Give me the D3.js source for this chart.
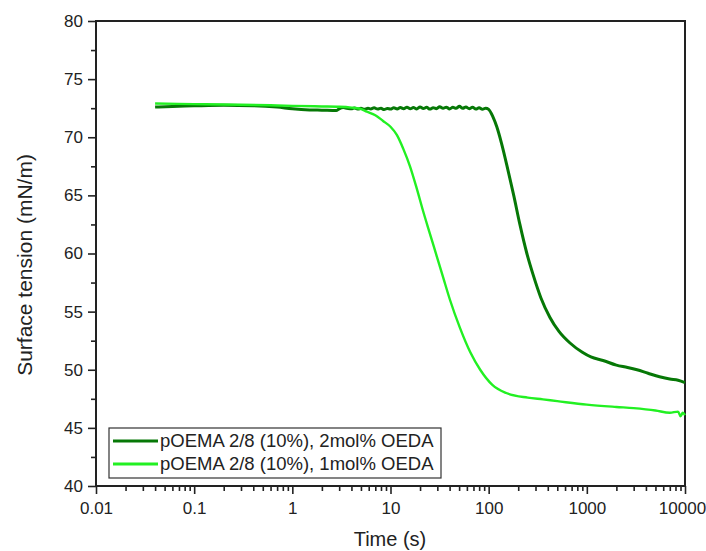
<!DOCTYPE html>
<html>
<head>
<meta charset="utf-8">
<script src="https://cdnjs.cloudflare.com/ajax/libs/d3/7.8.5/d3.min.js"></script>
<style>
  body { margin: 0; background: #fff; }
  svg text { font-family: "Liberation Sans", Arial, sans-serif; fill: #222; }
</style>
</head>
<body>
<div id="chart"></div>
<script>
// Data: [time (s), surface tension (mN/m)]
const series2mol = [
  [0.04, 72.6], [0.06, 72.65], [0.1, 72.7], [0.2, 72.75], [0.4, 72.72], [0.7, 72.6],
  [1.0, 72.45], [1.5, 72.35], [2.0, 72.33], [2.8, 72.3], [3.0, 72.45], [3.3, 72.55],
  [3.6, 72.5], [4.0, 72.45], [4.3, 72.52], [4.7, 72.42], [5.0, 72.5], [5.4, 72.4],
  [5.9, 72.5], [6.3, 72.44], [6.8, 72.53], [7.4, 72.42], [8.0, 72.5], [8.6, 72.38],
  [9.3, 72.48], [10, 72.42], [10.8, 72.54], [11.7, 72.44], [12.6, 72.56], [13.6, 72.46],
  [14.7, 72.58], [15.9, 72.45], [17.1, 72.55], [18.5, 72.44], [20, 72.6], [21.6, 72.47],
  [23.3, 72.57], [25.2, 72.42], [27.2, 72.54], [29.4, 72.46], [31.7, 72.63], [34.3, 72.49],
  [37, 72.59], [40, 72.44], [43.2, 72.57], [46.6, 72.5], [50.4, 72.66], [54.4, 72.49],
  [58.7, 72.6], [63.4, 72.46], [68.5, 72.58], [74, 72.42], [79.9, 72.54], [86.3, 72.4],
  [93.2, 72.5], [100, 72.4], [110, 71.8], [121, 70.9], [135, 69.5], [157, 67.2],
  [180, 65.0], [208, 62.5], [245, 60.0], [283, 58.2], [340, 56.2], [421, 54.5],
  [520, 53.3], [674, 52.3], [900, 51.5], [1100, 51.1], [1462, 50.8], [2000, 50.4],
  [2600, 50.2], [3245, 50.0], [4200, 49.7], [5500, 49.4], [7000, 49.2], [8500, 49.1],
  [10000, 48.9]
];

const series1mol = [
  [0.04, 72.9], [0.1, 72.85], [0.3, 72.8], [0.6, 72.75], [1, 72.7], [2, 72.65], [3, 72.62],
  [4, 72.55], [4.9, 72.45], [5.75, 72.2], [7, 71.9], [8.4, 71.4], [10, 70.9], [11.6, 70.2],
  [13.5, 69.0], [15.8, 67.5], [18.5, 65.6], [21.4, 63.7], [25, 61.8], [29.5, 59.8],
  [34.5, 57.9], [40.4, 56.0], [51, 53.6], [65, 51.5], [82, 50.0], [109, 48.7], [151, 48.0],
  [250, 47.6], [357, 47.45], [500, 47.3], [1000, 47.0], [2000, 46.8], [3000, 46.7],
  [5000, 46.5], [7000, 46.3], [8500, 46.4], [9000, 46.0], [9500, 46.3], [10000, 46.1]
];

const seriesNames = ["pOEMA 2/8 (10%), 2mol% OEDA", "pOEMA 2/8 (10%), 1mol% OEDA"];
const seriesColors = ["#067806", "#22f022"];
const xTickValues = [0.01, 0.1, 1, 10, 100, 1000, 10000];
const yTickValues = [40, 45, 50, 55, 60, 65, 70, 75, 80];

const W = 706, H = 551;
const plot = { left: 96, right: 685, top: 21, bottom: 486 };

const svg = d3.select("#chart")
  .append("svg")
  .attr("width", W)
  .attr("height", H);

const xScale = d3.scaleLog()
  .domain([0.01, 10000])
  .range([plot.left, plot.right]);

const yScale = d3.scaleLinear()
  .domain([40, 80])
  .range([plot.bottom, plot.top]);

// Minor ticks (drawn first, no labels)
svg.append("g")
  .attr("transform", `translate(0,${plot.bottom})`)
  .call(d3.axisBottom(xScale).tickValues(xScale.ticks().filter(t => !xTickValues.includes(t)))
    .tickSize(5).tickFormat(""));

const yMinor = yTickValues.slice(0, -1).map(v => v + 2.5);
svg.append("g")
  .attr("transform", `translate(${plot.left},0)`)
  .call(d3.axisLeft(yScale).tickValues(yMinor).tickSize(5).tickFormat(""));

// Major axes
const xAxis = svg.append("g")
  .attr("transform", `translate(0,${plot.bottom})`)
  .call(d3.axisBottom(xScale).tickValues(xTickValues).tickSize(8).tickPadding(8)
    .tickFormat(d => d3.format("~g")(d)));

const yAxis = svg.append("g")
  .attr("transform", `translate(${plot.left},0)`)
  .call(d3.axisLeft(yScale).tickValues(yTickValues).tickSize(8).tickPadding(5));

svg.selectAll(".domain").remove();
svg.selectAll(".tick line").attr("stroke", "#222").attr("stroke-width", 1.6);
svg.selectAll(".tick text").style("font-size", "17px").attr("fill", "#333");
// keep the last label inside the window
xAxis.selectAll(".tick text").filter(d => d === 10000).attr("dx", -3);

// Frame
svg.append("rect")
  .attr("x", plot.left)
  .attr("y", plot.top)
  .attr("width", plot.right - plot.left)
  .attr("height", plot.bottom - plot.top)
  .attr("fill", "none")
  .attr("stroke", "#222")
  .attr("stroke-width", 2);

// Curves
const line = d3.line()
  .curve(d3.curveMonotoneX)
  .x(d => xScale(d[0]))
  .y(d => yScale(d[1]));

svg.append("path")
  .datum(series2mol)
  .attr("d", line)
  .attr("fill", "none")
  .attr("stroke", seriesColors[0])
  .attr("stroke-width", 3)
  .attr("stroke-linejoin", "round");

svg.append("path")
  .datum(series1mol)
  .attr("d", line)
  .attr("fill", "none")
  .attr("stroke", seriesColors[1])
  .attr("stroke-width", 2.4)
  .attr("stroke-linejoin", "round");

// Axis titles
svg.append("text")
  .attr("x", 390)
  .attr("y", 546)
  .attr("text-anchor", "middle")
  .style("font-size", "20px")
  .text("Time (s)");

svg.append("text")
  .attr("transform", "rotate(-90)")
  .attr("x", -265)
  .attr("y", 32)
  .attr("text-anchor", "middle")
  .style("font-size", "21px")
  .text("Surface tension (mN/m)");

// Legend
const legend = svg.append("g").attr("transform", "translate(109,428)");
legend.append("rect")
  .attr("width", 332)
  .attr("height", 50)
  .attr("fill", "#fff")
  .attr("stroke", "#333")
  .attr("stroke-width", 1.2);

seriesNames.forEach((name, i) => {
  const y = 13 + i * 23;
  legend.append("line")
    .attr("x1", 4).attr("x2", 49)
    .attr("y1", y).attr("y2", y)
    .attr("stroke", seriesColors[i])
    .attr("stroke-width", 3);
  legend.append("text")
    .attr("x", 51)
    .attr("y", y + 6)
    .style("font-size", "18.5px")
    .text(name);
});
</script>
</body>
</html>
